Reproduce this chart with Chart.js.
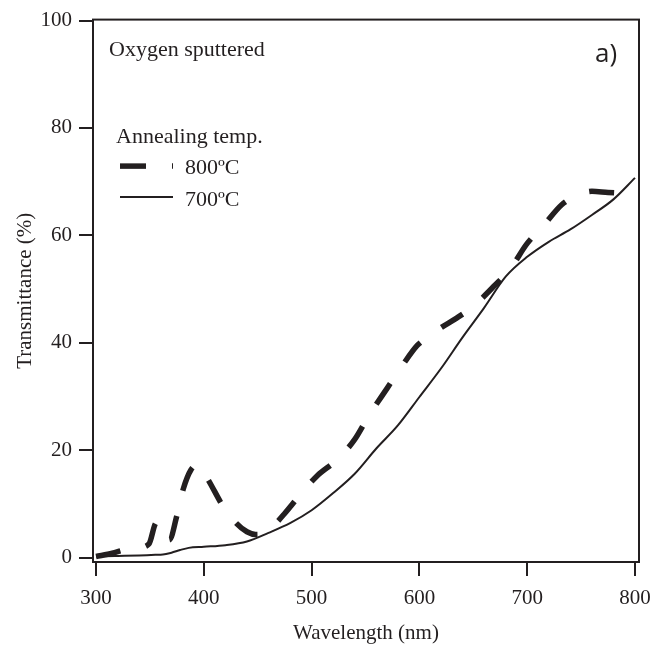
<!DOCTYPE html>
<html><head><meta charset="utf-8">
<script src="https://cdn.jsdelivr.net/npm/chart.js@4"></script>
<style>html,body{margin:0;padding:0;background:#fff}#wrap{width:669px;height:646px;position:relative}</style>
</head><body><div id="wrap"><canvas id="c" width="669" height="646"></canvas></div>
<script>
// ---- data ----
const wl800 = [300, 315, 326, 338, 349, 356, 362, 368, 375, 381, 388, 395, 404, 418, 430, 440, 448, 456, 465, 475, 489, 505, 524, 540, 553, 570, 585, 598, 606, 620, 633, 650, 670, 684, 700, 715, 732, 745, 760, 775, 800];
const t800  = [0.2, 0.8, 1.4, 1.8, 2.5, 6.5, 3.5, 3.3, 7.8, 12.8, 16.3, 17.3, 14.5, 9.5, 6.4, 4.8, 4.3, 4.5, 6.0, 8.2, 11.6, 15.2, 18.3, 22, 26.4, 31.5, 36, 39.5, 40.8, 42.8, 44.4, 46.8, 50.7, 53.7, 58.5, 61.8, 65.7, 67.3, 68.2, 68, 67.8];
const wl700 = [300, 320, 340, 355, 362, 370, 378, 386, 400, 420, 440, 460, 480, 500, 520, 540, 560, 580, 600, 620, 640, 660, 680, 700, 720, 740, 760, 780, 800];
const t700  = [0.2, 0.3, 0.4, 0.5, 0.55, 0.9, 1.4, 1.8, 2.0, 2.3, 3.0, 4.6, 6.4, 8.8, 12, 15.6, 20.3, 24.6, 29.9, 35.2, 41, 46.5, 52.3, 56.0, 58.8, 61.1, 63.8, 66.7, 70.7];
const xTicks = [300, 400, 500, 600, 700, 800];
const yTicks = [0, 20, 40, 60, 80, 100];
const seriesLabels = ['800ºC', '700ºC'];
const legendTitle = 'Annealing temp.';
const sampleLabel = 'Oxygen sputtered';
const panelLabel = 'a)';
const xTitle = 'Wavelength (nm)';
const yTitle = 'Transmittance (%)';

const INK = '#231f20';
const SERIF = '"Liberation Serif", "Times New Roman", serif';

const toPts = (xs, ys) => xs.map((x, i) => ({x, y: ys[i]}));

const annot = {
  id: 'annot',
  afterDraw(chart) {
    const ctx = chart.ctx, a = chart.chartArea;
    ctx.save();
    ctx.strokeStyle = INK; ctx.lineWidth = 2;
    ctx.strokeRect(a.left, a.top, a.right - a.left, a.bottom - a.top);
    ctx.fillStyle = INK;
    ctx.textBaseline = 'alphabetic';
    ctx.textAlign = 'left';
    ctx.font = '22px ' + SERIF;
    ctx.fillText(sampleLabel, a.left + 16, a.top + 36.5);
    ctx.fillText(legendTitle, a.left + 23, a.top + 123.5);
    ctx.fillText(seriesLabels[0], a.left + 92, a.top + 154.5);
    ctx.fillText(seriesLabels[1], a.left + 92, a.top + 186.5);
    ctx.lineCap = 'butt';
    ctx.lineWidth = 5.5; ctx.setLineDash([26, 26]);
    ctx.beginPath(); ctx.moveTo(a.left + 27, a.top + 146.5); ctx.lineTo(a.left + 80, a.top + 146.5); ctx.stroke();
    ctx.setLineDash([]); ctx.lineWidth = 2;
    ctx.beginPath(); ctx.moveTo(a.left + 27, a.top + 177.5); ctx.lineTo(a.left + 80, a.top + 177.5); ctx.stroke();
    ctx.font = '26px "Open Sans", sans-serif';
    ctx.fillText(panelLabel, a.right - 44, a.top + 42);
    ctx.restore();
  }
};

new Chart(document.getElementById('c'), {
  type: 'line',
  data: {
    datasets: [
      {label: seriesLabels[0], data: toPts(wl800, t800), borderColor: INK, borderWidth: 5.5,
       borderDash: [25, 26], borderCapStyle: 'butt', pointRadius: 0, cubicInterpolationMode: 'monotone', fill: false},
      {label: seriesLabels[1], data: toPts(wl700, t700), borderColor: INK, borderWidth: 2,
       pointRadius: 0, cubicInterpolationMode: 'monotone', fill: false}
    ]
  },
  options: {
    responsive: false, animation: false, devicePixelRatio: 1,
    layout: {padding: {left: 0, top: 15, right: 30, bottom: 0}},
    plugins: {legend: {display: false}, tooltip: {enabled: false}},
    scales: {
      x: {
        type: 'linear', min: 297.2, max: 803.7,
        afterBuildTicks: s => { s.ticks = xTicks.map(v => ({value: v})); },
        afterFit: s => { s.height = 84; },
        border: {display: false},
        grid: {drawOnChartArea: false, drawTicks: true, tickLength: 14, lineWidth: 2, color: INK},
        ticks: {color: INK, font: {family: SERIF, size: 21}, padding: 10, maxRotation: 0},
        title: {display: true, text: xTitle, color: INK, font: {family: SERIF, size: 21}, padding: {top: 0, bottom: 0}}
      },
      y: {
        type: 'linear', min: -0.83, max: 100.18,
        afterBuildTicks: s => { s.ticks = yTicks.map(v => ({value: v})); },
        afterFit: s => { s.width = 93; },
        border: {display: false},
        grid: {drawOnChartArea: false, drawTicks: true, tickLength: 14, lineWidth: 2, color: INK},
        ticks: {color: INK, font: {family: SERIF, size: 21}, padding: 7},
        title: {display: true, text: yTitle, color: INK, font: {family: SERIF, size: 21}, padding: {top: 13, bottom: 0}}
      }
    }
  },
  plugins: [annot]
});
</script></body></html>
